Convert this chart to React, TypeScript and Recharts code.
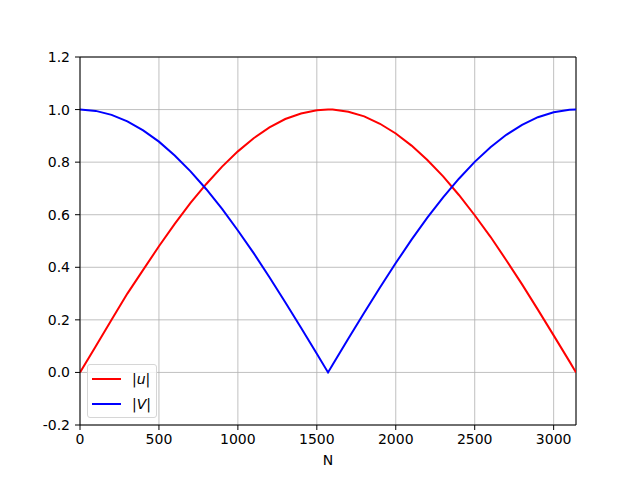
import { LineChart, Line, XAxis, YAxis, CartesianGrid, ReferenceLine } from 'recharts'

const nValues = [0, 100, 200, 300, 400, 500, 600, 700, 800, 900, 1000, 1100, 1200, 1300, 1400, 1500, 1571, 1600, 1700, 1800, 1900, 2000, 2100, 2200, 2300, 2400, 2500, 2600, 2700, 2800, 2900, 3000, 3100, 3142]
const uAbs = [0, 0.1, 0.2, 0.3, 0.39, 0.48, 0.565, 0.645, 0.717, 0.783, 0.841, 0.891, 0.932, 0.964, 0.985, 0.997, 1.0, 1.0, 0.992, 0.974, 0.946, 0.909, 0.863, 0.808, 0.746, 0.675, 0.598, 0.516, 0.427, 0.335, 0.239, 0.141, 0.042, 0]
const vAbs = [1.0, 0.995, 0.98, 0.955, 0.921, 0.878, 0.825, 0.765, 0.697, 0.622, 0.54, 0.454, 0.362, 0.267, 0.17, 0.071, 0, 0.029, 0.129, 0.227, 0.323, 0.416, 0.505, 0.589, 0.666, 0.737, 0.801, 0.857, 0.904, 0.942, 0.971, 0.99, 0.999, 1.0]
const xTicks = [0, 500, 1000, 1500, 2000, 2500, 3000]
const yTicks = [-0.2, 0, 0.2, 0.4, 0.6, 0.8, 1.0, 1.2]

const data = nValues.map((n, i) => ({ n, u: uAbs[i], v: vAbs[i] }))

const font = 'DejaVu Sans, sans-serif'
const X_MAX = 3141.59

export default function App() {
  return (
    <div style={{ position: 'absolute', left: 0, top: 0, width: 640, height: 478, background: '#fff', fontFamily: font }}>
      <LineChart width={640} height={478} data={data} margin={{ top: 57, right: 64, bottom: 23, left: 20 }}>
        <CartesianGrid stroke="#b0b0b0" strokeWidth={0.8} />
        <XAxis
          dataKey="n"
          type="number"
          domain={[0, X_MAX]}
          ticks={xTicks}
          allowDataOverflow
          height={30}
          tickSize={5}
          tickMargin={4}
          stroke="#000"
          tick={{ fill: '#000', fontSize: 14, fontFamily: font }}
          label={{ value: 'N', position: 'insideBottom', offset: -10, fill: '#000', fontSize: 14, fontFamily: font }}
        />
        <YAxis
          type="number"
          domain={[-0.2, 1.2]}
          ticks={yTicks}
          width={60}
          tickSize={5}
          tickMargin={5}
          stroke="#000"
          tickFormatter={(v: number) => v.toFixed(1)}
          tick={{ fill: '#000', fontSize: 14, fontFamily: font }}
        />
        <ReferenceLine y={1.2} stroke="#000" />
        <ReferenceLine x={X_MAX} stroke="#000" />
        <Line type="linear" dataKey="u" stroke="#ff0000" strokeWidth={2} dot={false} isAnimationActive={false} />
        <Line type="linear" dataKey="v" stroke="#0000ff" strokeWidth={2} dot={false} isAnimationActive={false} />
      </LineChart>
      <div
        style={{
          position: 'absolute',
          left: 87,
          top: 364,
          width: 68,
          height: 52,
          border: '1px solid #d6d6d6',
          borderRadius: 3,
          background: 'rgba(255,255,255,0.8)',
          fontSize: 14,
          color: '#000',
        }}
      >
        {[
          { c: '#ff0000', t: <>|<i>u</i>|</> },
          { c: '#0000ff', t: <>|<i>V</i>|</> },
        ].map((e, i) => (
          <div key={i} style={{ position: 'absolute', left: 4, top: 5 + i * 25, display: 'flex', alignItems: 'center', height: 18 }}>
            <span style={{ display: 'inline-block', width: 29, height: 2, background: e.c }} />
            <span style={{ marginLeft: 11 }}>{e.t}</span>
          </div>
        ))}
      </div>
    </div>
  )
}
